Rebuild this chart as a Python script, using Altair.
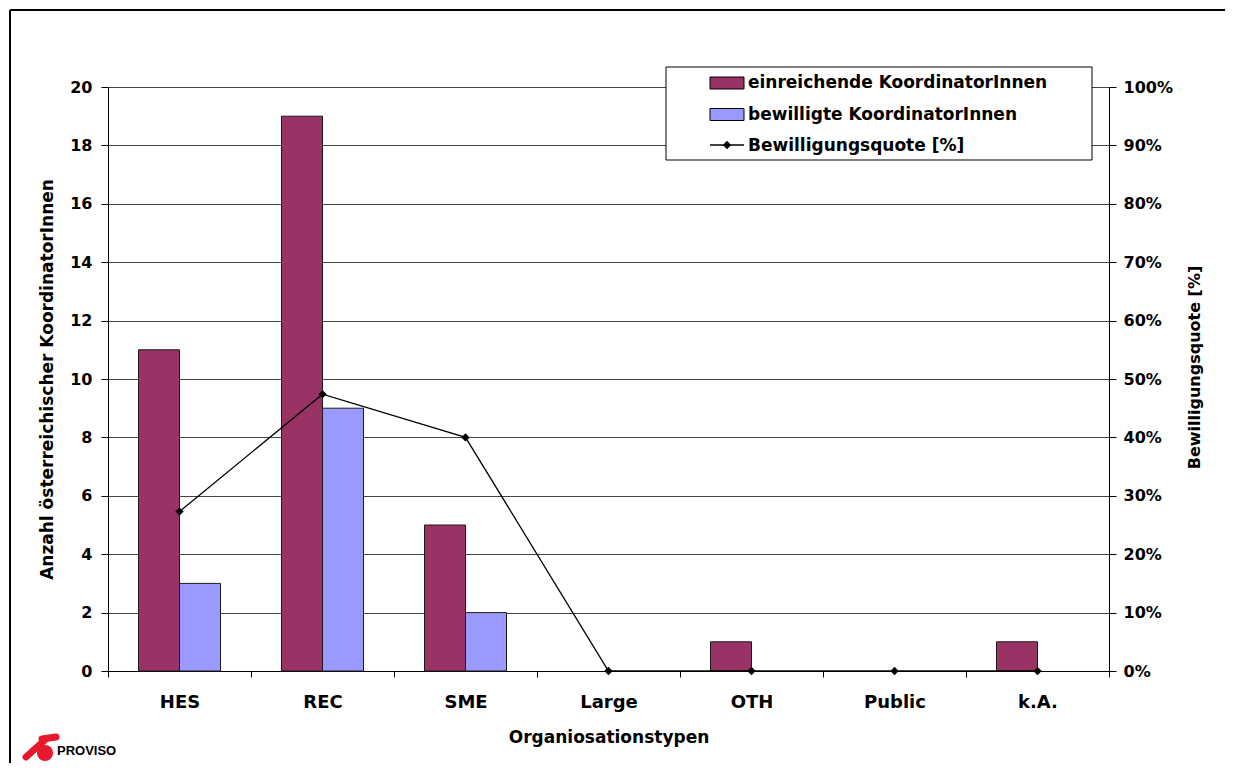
import altair as alt
import pandas as pd

# ---- data ----
categories = ["HES", "REC", "SME", "Large", "OTH", "Public", "k.A."]
submitted = [11, 19, 5, 0, 1, 0, 1]
approved = [3, 9, 2, 0, 0, 0, 0]
approval_rate = [0.273, 0.474, 0.40, 0.0, 0.0, 0.0, 0.0]
series_names = ["einreichende KoordinatorInnen", "bewilligte KoordinatorInnen"]
series_colors = ["#993366", "#9999FF"]
line_name = "Bewilligungsquote [%]"
y_left_ticks = [0, 2, 4, 6, 8, 10, 12, 14, 16, 18, 20]
y_right_ticks = [0, 0.1, 0.2, 0.3, 0.4, 0.5, 0.6, 0.7, 0.8, 0.9, 1.0]
x_title = "Organiosationstypen"
y_left_title = "Anzahl österreichischer KoordinatorInnen"
logo_text = "PROVISO"

rows = []
for c, s, a in zip(categories, submitted, approved):
    rows.append({"cat": c, "series": series_names[0], "value": s})
    rows.append({"cat": c, "series": series_names[1], "value": a})
bars_df = pd.DataFrame(rows)
rate_df = pd.DataFrame({"cat": categories, "rate": approval_rate})
one = pd.DataFrame({"k": [0]})

FONT = "DejaVu Sans"

x_enc = alt.X(
    "cat:N", sort=categories,
    scale=alt.Scale(paddingInner=0, paddingOuter=0),
    axis=alt.Axis(title=x_title, labelAngle=0, tickBand="extent", tickSize=6,
                  labelPadding=16, titlePadding=18, domainColor="black", tickColor="black",
                  grid=False, labelFont=FONT, labelFontSize=18, labelFontWeight="bold",
                  titleFont=FONT, titleFontSize=17, titleFontWeight="bold",
                  labelColor="black", titleColor="black"),
)

bars = alt.Chart(bars_df).transform_filter("datum.value > 0").mark_bar(
    stroke="#1a1a1a", strokeWidth=1).encode(
    x=x_enc,
    xOffset=alt.XOffset("series:N", sort=series_names,
                        scale=alt.Scale(domain=series_names, paddingOuter=0.744, paddingInner=0)),
    y=alt.Y("value:Q", scale=alt.Scale(domain=[0, 20], nice=False),
            axis=alt.Axis(values=y_left_ticks, title=y_left_title, grid=True,
                          gridColor="#444", gridWidth=1, tickSize=7, tickColor="black",
                          domainColor="black", labelPadding=9, titlePadding=13,
                          labelFont=FONT, labelFontSize=16, labelFontWeight="bold",
                          titleFont=FONT, titleFontSize=17, titleFontWeight="bold",
                          labelColor="black", titleColor="black")),
    color=alt.Color("series:N", scale=alt.Scale(domain=series_names, range=series_colors),
                    legend=None),
)

y_right = alt.Y("rate:Q", scale=alt.Scale(domain=[0, 1], nice=False),
                axis=alt.Axis(orient="right", values=y_right_ticks, format=".0%",
                              title=line_name, titleAngle=270, titleY=280,
                              grid=False, tickSize=7, tickColor="black",
                              domainColor="black", labelPadding=7, titlePadding=30,
                              labelFont=FONT, labelFontSize=16, labelFontWeight="bold",
                              titleFont=FONT, titleFontSize=16, titleFontWeight="bold",
                              labelColor="black", titleColor="black"))

line = alt.Chart(rate_df).mark_line(color="black", strokeWidth=1.3).encode(
    x=alt.X("cat:N", sort=categories), y=y_right)
pts = alt.Chart(rate_df).mark_point(shape="diamond", filled=True, color="black",
                                    size=70, opacity=1).encode(
    x=alt.X("cat:N", sort=categories), y=y_right)
line_layer = alt.layer(line, pts)

# ---- decorations: outer frame, legend box, logo ----
deco = []
deco.append(alt.Chart(one).mark_rule(color="black", strokeWidth=2).encode(
    x=alt.value(-98), y=alt.value(-77), y2=alt.value(700)))
deco.append(alt.Chart(one).mark_rule(color="black", strokeWidth=2).encode(
    x=alt.value(-98), x2=alt.value(1140), y=alt.value(-77)))

deco.append(alt.Chart(one).mark_rect(fill="white", stroke="black", strokeWidth=1).encode(
    x=alt.value(558), x2=alt.value(984), y=alt.value(-20), y2=alt.value(73)))
for i, (nm, col) in enumerate(zip(series_names, series_colors)):
    yc = -4 + 31.5 * i
    deco.append(alt.Chart(one).mark_rect(fill=col, stroke="black", strokeWidth=1).encode(
        x=alt.value(602), x2=alt.value(636), y=alt.value(yc - 6), y2=alt.value(yc + 6)))
    deco.append(alt.Chart(one).mark_text(text=nm, align="left", baseline="middle",
                                         font=FONT, fontSize=17, fontWeight="bold",
                                         color="black").encode(
        x=alt.value(640), y=alt.value(yc)))
yl = -4 + 31.5 * 2
deco.append(alt.Chart(one).mark_rule(color="black", strokeWidth=1.3).encode(
    x=alt.value(602), x2=alt.value(636), y=alt.value(yl - 1)))
deco.append(alt.Chart(one).mark_point(shape="diamond", filled=True, color="black",
                                      size=70, opacity=1).encode(
    x=alt.value(619), y=alt.value(yl - 1)))
deco.append(alt.Chart(one).mark_text(text=line_name, align="left", baseline="middle",
                                     font=FONT, fontSize=17, fontWeight="bold",
                                     color="black").encode(
    x=alt.value(640), y=alt.value(yl)))

# logo
deco.append(alt.Chart(one).mark_rule(color="#E8192C", strokeWidth=7, strokeCap="round").encode(
    x=alt.value(-82), y=alt.value(670), x2=alt.value(-62), y2=alt.value(652)))
deco.append(alt.Chart(one).mark_rule(color="#E8192C", strokeWidth=7, strokeCap="round").encode(
    x=alt.value(-66), y=alt.value(652), x2=alt.value(-52), y2=alt.value(650)))
deco.append(alt.Chart(one).mark_point(shape="circle", filled=True, color="#E8192C",
                                      size=260, opacity=1).encode(
    x=alt.value(-63), y=alt.value(666)))
deco.append(alt.Chart(one).mark_text(text=logo_text, align="left", baseline="middle",
                                     font="Liberation Sans", fontSize=13,
                                     fontWeight="bold", color="black").encode(
    x=alt.value(-51), y=alt.value(664)))

chart = alt.layer(bars, line_layer, *deco).resolve_scale(y="independent").properties(
    width=1001, height=584,
    autosize=alt.AutoSizeParams(type="none"),
    padding={"left": 100, "top": 79, "right": 116, "bottom": 92},
    background="white",
).configure_view(stroke=None)

chart.save("out.html", embed_options={"renderer": "svg", "actions": False})
